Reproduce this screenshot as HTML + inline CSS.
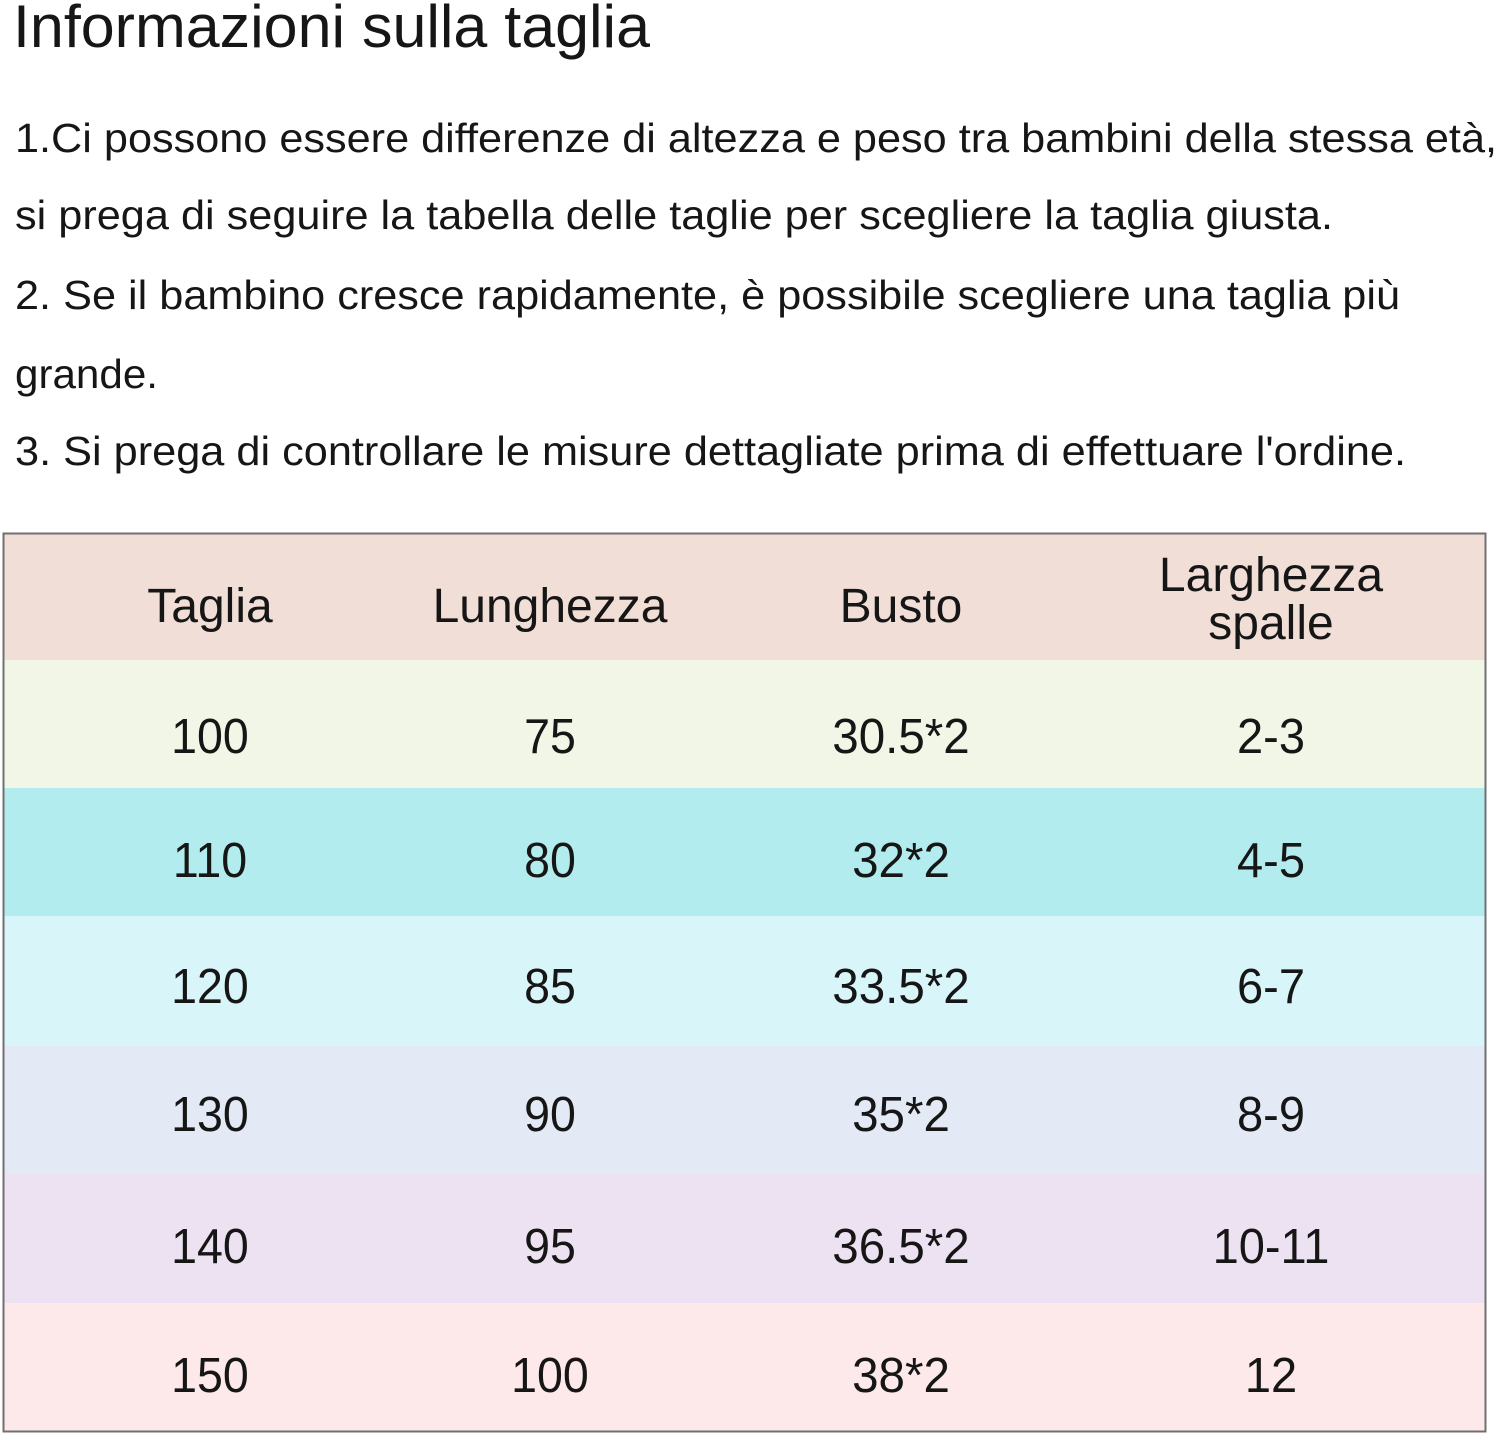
<!DOCTYPE html>
<html>
<head>
<meta charset="utf-8">
<style>
  html, body { margin:0; padding:0; background:#ffffff; }
  body { width:1500px; height:1435px; overflow:hidden; }
  svg { display:block; }
  text { font-family: "Liberation Sans", Arial, sans-serif; fill:#161616; }
</style>
</head>
<body>
<svg width="1500" height="1435" viewBox="0 0 1500 1435" xmlns="http://www.w3.org/2000/svg">
  <rect x="0" y="0" width="1500" height="1435" fill="#ffffff"/>

  <!-- Title -->
  <text x="13" y="47" font-size="60" textLength="637" lengthAdjust="spacingAndGlyphs">Informazioni sulla taglia</text>

  <!-- Paragraph lines -->
  <text x="15" y="152" font-size="41" textLength="1482" lengthAdjust="spacingAndGlyphs">1.Ci possono essere differenze di altezza e peso tra bambini della stessa età,</text>
  <text x="15" y="229" font-size="41" textLength="1318" lengthAdjust="spacingAndGlyphs">si prega di seguire la tabella delle taglie per scegliere la taglia giusta.</text>
  <text x="15" y="309" font-size="41" textLength="1385" lengthAdjust="spacingAndGlyphs">2. Se il bambino cresce rapidamente, è possibile scegliere una taglia più</text>
  <text x="15" y="388" font-size="41" textLength="143" lengthAdjust="spacingAndGlyphs">grande.</text>
  <text x="15" y="465" font-size="41" textLength="1391" lengthAdjust="spacingAndGlyphs">3. Si prega di controllare le misure dettagliate prima di effettuare l'ordine.</text>

  <!-- Table rows -->
  <rect x="4" y="534" width="1481" height="127" fill="#f1ded6"/>
  <rect x="4" y="660" width="1481" height="129" fill="#f1f6e7"/>
  <rect x="4" y="788" width="1481" height="129" fill="#b3ecee"/>
  <rect x="4" y="916" width="1481" height="131" fill="#d8f5fa"/>
  <rect x="4" y="1046" width="1481" height="129" fill="#e3e9f5"/>
  <rect x="4" y="1174" width="1481" height="130" fill="#ede2f2"/>
  <rect x="4" y="1303" width="1481" height="128" fill="#fde8ea"/>

  <!-- Table border -->
  <rect x="3.5" y="533.5" width="1482" height="898" fill="none" stroke="#707070" stroke-width="2"/>

  <!-- Header -->
  <g font-size="48" text-anchor="middle">
    <text x="210" y="622">Taglia</text>
    <text x="550" y="622">Lunghezza</text>
    <text x="901" y="622">Busto</text>
    <text x="1271" y="591">Larghezza</text>
    <text x="1271" y="639">spalle</text>
  </g>

  <!-- Rows -->
  <g font-size="49" text-anchor="middle" transform="translate(0,0)">
    <g transform="translate(210,0) scale(0.95,1) translate(-210,0)">
      <text x="210" y="753">100</text>
      <text x="210" y="877">110</text>
      <text x="210" y="1003">120</text>
      <text x="210" y="1131">130</text>
      <text x="210" y="1263">140</text>
      <text x="210" y="1392">150</text>
    </g>
    <g transform="translate(550,0) scale(0.95,1) translate(-550,0)">
      <text x="550" y="753">75</text>
      <text x="550" y="877">80</text>
      <text x="550" y="1003">85</text>
      <text x="550" y="1131">90</text>
      <text x="550" y="1263">95</text>
      <text x="550" y="1392">100</text>
    </g>
    <g transform="translate(901,0) scale(0.97,1) translate(-901,0)">
      <text x="901" y="753">30.5*2</text>
      <text x="901" y="877">32*2</text>
      <text x="901" y="1003">33.5*2</text>
      <text x="901" y="1131">35*2</text>
      <text x="901" y="1263">36.5*2</text>
      <text x="901" y="1392">38*2</text>
    </g>
    <g transform="translate(1271,0) scale(0.96,1) translate(-1271,0)">
      <text x="1271" y="753">2-3</text>
      <text x="1271" y="877">4-5</text>
      <text x="1271" y="1003">6-7</text>
      <text x="1271" y="1131">8-9</text>
      <text x="1271" y="1263">10-11</text>
      <text x="1271" y="1392">12</text>
    </g>
  </g>
</svg>
</body>
</html>
